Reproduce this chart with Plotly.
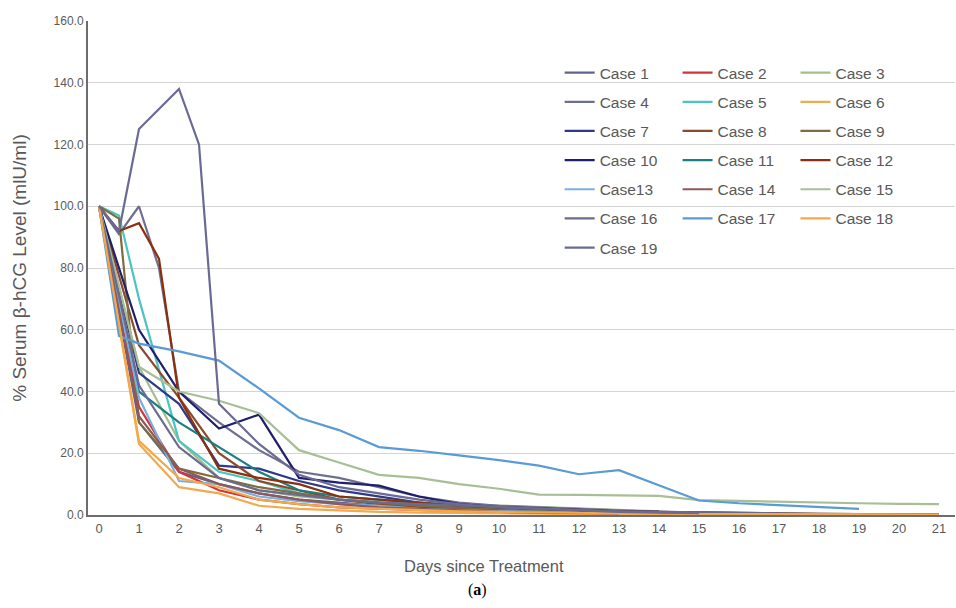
import plotly.graph_objects as go

case_names = ["Case 1", "Case 2", "Case 3", "Case 4", "Case 5", "Case 6", "Case 7",
              "Case 8", "Case 9", "Case 10", "Case 11", "Case 12", "Case13", "Case 14",
              "Case 15", "Case 16", "Case 17", "Case 18", "Case 19"]

x_ticks = [0, 1, 2, 3, 4, 5, 6, 7, 8, 9, 10, 11, 12, 13, 14, 15, 16, 17, 18, 19, 20, 21]
y_ticks = [0, 20, 40, 60, 80, 100, 120, 140, 160]

c1_days = [0, 1, 2, 3, 4, 5, 6, 7, 8, 9, 10, 11, 12, 13, 14, 15, 16]
c1_vals = [100, 30, 14, 10, 7, 5, 4, 3, 2.5, 2, 1.5, 1.2, 1, 0.8, 0.6, 0.5, 0.4]
c2_days = [0, 1, 2, 3, 4, 5, 6, 7, 8, 9, 10, 11, 12, 13, 14, 15, 16, 17, 18, 19, 20, 21]
c2_vals = [100, 35, 14, 8, 5, 3.5, 2.5, 2, 1.5, 1.2, 1, 0.8, 0.6, 0.5, 0.4, 0.3, 0.2, 0.2, 0.2, 0.2, 0.2, 0.2]
c3_days = [0, 1, 2, 3, 4, 5, 6, 7, 8, 9, 10, 11, 12, 13, 14]
c3_vals = [100, 48, 24, 12, 8, 6, 5, 4.5, 4, 3.5, 3, 2.5, 2, 1.5, 1.2]
c4_days = [0, 0.5, 1, 1.5, 2, 3, 4, 5, 6, 7, 8, 9, 10, 11, 12, 13, 14, 15, 16, 17]
c4_vals = [100, 91, 100, 80, 40, 30, 21, 14, 12, 9, 6, 4, 3, 2.5, 2, 1.5, 1, 0.8, 0.6, 0.5]
c5_days = [0, 0.5, 1, 2, 3, 4, 5, 6, 7, 8, 9, 10, 11, 12, 13]
c5_vals = [100, 97, 70, 24, 14, 11, 7, 5, 4, 3, 2.5, 2, 1.5, 1.2, 1]
c6_days = [0, 1, 2, 3, 4, 5, 6, 7, 8, 9, 10, 11, 12, 13, 14]
c6_vals = [100, 23, 9, 7, 3, 2, 1.5, 1, 0.8, 0.6, 0.5, 0.4, 0.3, 0.3, 0.2]
c7_days = [0, 1, 2, 3, 4, 5, 6, 7, 8, 9, 10, 11, 12, 13, 14]
c7_vals = [100, 46, 36, 16, 15, 11, 8, 6, 4, 3, 2.5, 2, 1.5, 1.2, 1]
c8_days = [0, 1, 2, 3, 4, 5, 6, 7, 8, 9, 10, 11, 12, 13, 14, 15]
c8_vals = [100, 55, 38, 20, 11, 8, 5, 3.5, 2.5, 2, 1.5, 1.2, 1, 0.8, 0.6, 0.5]
c9_days = [0, 0.5, 1, 2, 3, 4, 5, 6, 7, 8, 9, 10, 11, 12]
c9_vals = [100, 96, 30, 15, 12, 9, 7, 5, 4, 3, 2.5, 2, 1.5, 1]
c10_days = [0, 1, 2, 3, 4, 5, 6, 7, 8, 9, 10, 11, 12, 13, 14, 15]
c10_vals = [100, 60, 40, 28, 32.5, 12, 10.5, 9.5, 6, 3.5, 2.5, 2, 1.5, 1.2, 1, 0.8]
c11_days = [0, 1, 2, 3, 4, 5, 6, 7, 8, 9, 10, 11, 12, 13, 14]
c11_vals = [100, 40, 30, 22, 14, 8, 6, 5, 4, 3, 2.5, 2, 1.5, 1, 0.8]
c12_days = [0, 0.5, 1, 1.5, 2, 3, 4, 5, 6, 7, 8, 9, 10, 11, 12, 13, 14, 15, 16, 17, 18, 19, 20, 21]
c12_vals = [100, 92, 94.5, 83, 38, 15, 12, 10, 6, 5, 4, 3, 2.5, 2, 1.5, 1.2, 1, 0.8, 0.6, 0.5, 0.4, 0.3, 0.3, 0.3]
c13_days = [0, 1, 2, 3, 4, 5, 6, 7, 8, 9, 10, 11, 12]
c13_vals = [100, 38, 11, 10, 6, 4.5, 3.5, 3, 2, 1.5, 1.2, 1, 0.8]
c14_days = [0, 1, 2, 3, 4, 5, 6, 7, 8, 9, 10, 11, 12, 13]
c14_vals = [100, 32, 15, 10, 7, 5, 3.5, 2.5, 2, 1.5, 1, 0.8, 0.6, 0.5]
c15_days = [0, 1, 2, 3, 4, 5, 6, 7, 8, 9, 10, 11, 12, 13, 14, 15, 16, 17, 18, 19, 20, 21]
c15_vals = [100, 48, 40, 37, 33, 21, 17, 13, 12, 10, 8.5, 6.6, 6.5, 6.3, 6.2, 4.8, 4.5, 4.2, 4, 3.8, 3.6, 3.5]
c16_days = [0, 1, 2, 3, 4, 5, 6, 7, 8, 9, 10, 11, 12, 13, 14, 15, 16, 17, 18, 19]
c16_vals = [100, 42, 22, 12, 8, 6.5, 5, 4, 3.5, 3, 2.5, 2, 1.5, 1.2, 1, 0.8, 0.6, 0.5, 0.4, 0.3]
c17_days = [0, 0.5, 1, 2, 3, 4, 5, 6, 7, 8, 9, 10, 11, 12, 13, 15, 16, 17, 18, 19]
c17_vals = [100, 58, 55.5, 53, 50, 41, 31.5, 27.5, 22, 20.8, 19.3, 17.8, 16, 13.2, 14.5, 4.7, 3.8, 3.2, 2.5, 2]
c18_days = [0, 1, 2, 3, 4, 5, 6, 7, 8, 9, 10, 11, 12, 13, 14, 15, 16, 17, 18, 19, 20, 21]
c18_vals = [100, 24, 12, 9, 5, 3.5, 2.5, 2, 1.5, 1.2, 1, 0.8, 0.6, 0.5, 0.4, 0.3, 0.3, 0.2, 0.2, 0.2, 0.2, 0.2]
c19_days = [0, 0.5, 1, 2, 2.5, 3, 4, 5, 6, 7, 8, 9, 10, 11, 12, 13, 14, 15]
c19_vals = [100, 92, 125, 138, 120, 36, 23, 13, 9, 7, 5, 3.5, 2.5, 2, 1.5, 1, 0.8, 0.6]

all_days = [c1_days, c2_days, c3_days, c4_days, c5_days, c6_days, c7_days, c8_days, c9_days,
            c10_days, c11_days, c12_days, c13_days, c14_days, c15_days, c16_days, c17_days,
            c18_days, c19_days]
all_vals = [c1_vals, c2_vals, c3_vals, c4_vals, c5_vals, c6_vals, c7_vals, c8_vals, c9_vals,
            c10_vals, c11_vals, c12_vals, c13_vals, c14_vals, c15_vals, c16_vals, c17_vals,
            c18_vals, c19_vals]

colors = ["#60648c", "#d0353c", "#a3bf8c", "#6e6e8e", "#4cc4c4", "#f0aa50", "#2e3a87",
          "#8b4a2b", "#7f6d3f", "#1f1f6b", "#1a7f80", "#8b2f0e", "#7ab0e0", "#8c5a5a",
          "#a8bf96", "#6b6b8f", "#5b9bd5", "#f4a84a", "#6a6a94"]

legend_ids = ["legend", "legend2", "legend3"]

fig = go.Figure()
for i, name in enumerate(case_names):
    fig.add_trace(go.Scatter(
        x=all_days[i], y=all_vals[i], mode="lines", name=name,
        line=dict(color=colors[i], width=2.2),
        legend=legend_ids[i % 3], legendgroup=name,
    ))

font = "Liberation Sans, Arial, sans-serif"
leg_common = dict(
    orientation="v", xanchor="left", yanchor="top", y=0.929,
    bgcolor="rgba(0,0,0,0)", borderwidth=0,
    font=dict(family=font, size=15.5, color="#595959"),
    traceorder="grouped", tracegroupgap=6, itemwidth=30,
)

fig.update_layout(
    width=956, height=608,
    margin=dict(l=88, r=1, t=21, b=93, autoexpand=False),
    paper_bgcolor="white", plot_bgcolor="white",
    font=dict(family=font, color="#595959"),
    xaxis=dict(
        range=[-0.275, 21.4], tickmode="array", tickvals=x_ticks,
        ticktext=[str(t) for t in x_ticks],
        tickfont=dict(size=13, color="#595959"),
        showgrid=False, zeroline=False, automargin=False,
        showline=True, linecolor="#6d6d6d", linewidth=2,
        ticks="", ticklen=0,
    ),
    yaxis=dict(
        range=[0, 160], tickmode="array", tickvals=y_ticks,
        ticktext=[f"{t:.1f}" for t in y_ticks],
        tickfont=dict(size=12, color="#595959"),
        showgrid=True, gridcolor="#d4d4d4", gridwidth=1, zeroline=False, automargin=False,
        showline=True, linecolor="#6d6d6d", linewidth=2,
        title=dict(text="% Serum β-hCG Level (mlU/ml)", font=dict(size=19, color="#595959"), standoff=22),
        ticks="", ticklen=0,
    ),
    legend=dict(leg_common, x=0.544),
    legend2=dict(leg_common, x=0.68),
    legend3=dict(leg_common, x=0.816),
    showlegend=True,
)

fig.add_annotation(
    text="Days since Treatment", xref="paper", yref="paper", x=0.457, y=-0.103,
    xanchor="center", yanchor="middle", showarrow=False,
    font=dict(family=font, size=16.5, color="#595959"),
)

fig.add_annotation(
    text="(<b>a</b>)", xref="paper", yref="paper", x=0.449, y=-0.152,
    xanchor="center", yanchor="middle", showarrow=False,
    font=dict(family="Liberation Serif, serif", size=16, color="#000000"),
)

fig.write_html("out.html", config={"displayModeBar": False},
               post_script="document.body.style.margin='0';document.body.style.overflow='hidden';")
